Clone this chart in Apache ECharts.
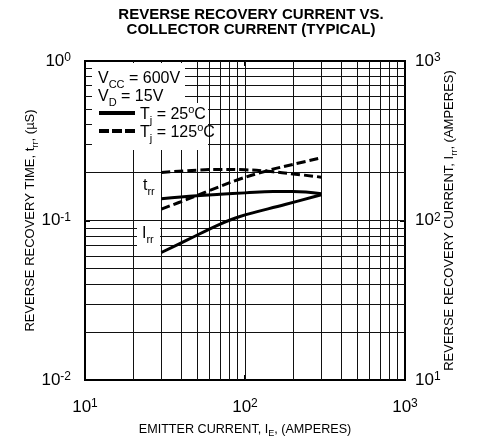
<!DOCTYPE html>
<html><head><meta charset="utf-8">
<script src="https://cdn.jsdelivr.net/npm/echarts@6/dist/echarts.min.js"></script>
<style>html,body{margin:0;padding:0;background:#fff}#c{width:479px;height:439px}</style>
</head><body><div id="c"></div>
<script>
// ---- data ----
const titleLines = ['REVERSE RECOVERY CURRENT VS.', 'COLLECTOR CURRENT (TYPICAL)'];
const xRange = [10, 1000];          // emitter current, A
const trrRange = [0.01, 1];         // reverse recovery time, µS
const irrRange = [10, 1000];        // reverse recovery current, A
const gridX = [20,30,40,50,60,70,80,90,100,200,300,400,500,600,700,800,900];
const gridY = [0.02,0.03,0.04,0.05,0.06,0.07,0.08,0.09,0.1,0.2,0.3,0.4,0.5,0.6,0.7,0.8,0.9];
const trr25  = [[30,0.137],[50,0.143],[70,0.146],[100,0.149],[150,0.152],[200,0.152],[300,0.147]];
const trr125 = [[30,0.200],[50,0.207],[70,0.209],[100,0.208],[150,0.202],[200,0.196],[300,0.187]];
const irr25  = [[30,63],[43,75],[70,95],[93,106],[178,126],[300,145]];
const irr125 = [[30,118],[43,135],[60,154],[93,182],[140,206],[200,225],[300,247]];
const conditions = ['V{sub|CC} = 600V', 'V{sub|D} = 15V'];
const legendTexts = ['T{sub|j} = 25{sup|o}C', 'T{sub|j} = 125{sup|o}C'];

const FONT = '"Liberation Sans", Arial, Helvetica, sans-serif';
const chart = echarts.init(document.getElementById('c'), null, {renderer: 'canvas'});

const expLabel = v => '{b|10}{s|' + Math.round(Math.log10(v)) + '}';
const tickRich = {
  b: {fontSize: 17, lineHeight: 20, fontFamily: FONT, color: '#000'},
  s: {fontSize: 12, lineHeight: 12, verticalAlign: 'top', padding: [1,0,0,0], fontFamily: FONT, color: '#000'}
};
const nameRich = (fs) => ({
  n: {fontSize: fs, lineHeight: fs + 2, verticalAlign: 'top', fontFamily: FONT, color: '#000'},
  sub: {fontSize: fs * 0.72, lineHeight: fs * 0.72, padding: [fs * 0.5,0,0,0], verticalAlign: 'top', fontFamily: FONT, color: '#000'}
});
const txtRich = {
  n: {fontSize: 16, lineHeight: 16, padding: [3,0,0,0], verticalAlign: 'top', fontFamily: FONT, fill: '#000'},
  sub: {fontSize: 11, lineHeight: 11, padding: [11,0,0,0], verticalAlign: 'top', fontFamily: FONT, fill: '#000'},
  sup: {fontSize: 11, lineHeight: 11, verticalAlign: 'top', fontFamily: FONT, fill: '#000'}
};
function wrapN(s){ // wrap plain parts in {n|...}
  return s.split(/(\{[a-z]+\|[^}]*\})/).filter(p=>p).map(p => p.startsWith('{') ? p : '{n|' + p + '}').join('');
}

const axisCommon = {
  type: 'log', logBase: 10,
  nameMoveOverlap: false,
  axisLine: {show: true, lineStyle: {color: '#000', width: 2}},
  axisTick: {show: true, inside: true, length: 5, lineStyle: {color: '#000', width: 2}},
  splitLine: {show: false},
  minorTick: {show: false}
};

const curveStyle = (dashed) => ({color: '#000', width: 3, type: dashed ? [9,4] : 'solid'});

const option = {
  animation: false,
  backgroundColor: '#fff',
  title: {
    text: titleLines.join('\n'),
    left: 246, top: 2, textAlign: 'center',
    textStyle: {fontSize: 15, fontWeight: 'bold', fontFamily: FONT, lineHeight: 15, color: '#000'}
  },
  grid: {left: 85, right: 74, top: 61, bottom: 59, outerBoundsMode: 'none', containLabel: false,
         show: true, borderColor: '#000', borderWidth: 2, backgroundColor: 'transparent'},
  xAxis: [
    Object.assign({}, axisCommon, {
      min: xRange[0], max: xRange[1], position: 'bottom',
      name: wrapN('EMITTER CURRENT, I{sub|E}, (AMPERES)'), nameLocation: 'middle', nameGap: 43,
      nameTextStyle: {rich: nameRich(12.6)},
      axisLabel: {formatter: expLabel, rich: tickRich, margin: 17}
    }),
    Object.assign({}, axisCommon, {
      min: xRange[0], max: xRange[1], position: 'top', axisLabel: {show: false}
    })
  ],
  yAxis: [
    Object.assign({}, axisCommon, {
      min: trrRange[0], max: trrRange[1], position: 'left',
      name: wrapN('REVERSE RECOVERY TIME, t{sub|rr}, (µS)'), nameLocation: 'middle', nameGap: 46,
      nameTextStyle: {rich: nameRich(13)},
      axisLabel: {formatter: expLabel, rich: tickRich, margin: 14}
    }),
    Object.assign({}, axisCommon, {
      min: irrRange[0], max: irrRange[1], position: 'right',
      name: wrapN('REVERSE RECOVERY CURRENT, I{sub|rr}, (AMPERES)'), nameLocation: 'middle', nameGap: 38,
      nameTextStyle: {rich: nameRich(13)},
      axisLabel: {formatter: expLabel, rich: tickRich, margin: 10}
    })
  ],
  graphic: [
    {type: 'rect', zlevel: 1, silent: true, shape: {x: 92, y: 63, width: 93, height: 40}, style: {fill: '#fff'}},
    {type: 'rect', zlevel: 1, silent: true, shape: {x: 92, y: 103, width: 116, height: 47}, style: {fill: '#fff'}},
    {type: 'text', zlevel: 1, z: 10, x: 98, y: 68, style: {text: wrapN(conditions[0]), rich: txtRich, verticalAlign: 'top'}},
    {type: 'text', zlevel: 1, z: 10, x: 98, y: 86, style: {text: wrapN(conditions[1]), rich: txtRich, verticalAlign: 'top'}},
    {type: 'line', zlevel: 1, z: 10, shape: {x1: 99, y1: 113, x2: 135, y2: 113}, style: {stroke: '#000', lineWidth: 4}},
    {type: 'line', zlevel: 1, z: 10, shape: {x1: 99, y1: 131, x2: 135, y2: 131}, style: {stroke: '#000', lineWidth: 4, lineDash: [10,3]}},
    {type: 'text', zlevel: 1, z: 10, x: 140, y: 104, style: {text: wrapN(legendTexts[0]), rich: txtRich, verticalAlign: 'top'}},
    {type: 'text', zlevel: 1, z: 10, x: 140, y: 122, style: {text: wrapN(legendTexts[1]), rich: txtRich, verticalAlign: 'top'}},
    {type: 'rect', zlevel: 1, silent: true, shape: {x: 140, y: 178, width: 19, height: 18}, style: {fill: '#fff'}},
    {type: 'text', zlevel: 1, z: 10, x: 143, y: 175, style: {text: wrapN('t{sub|rr}'), rich: txtRich, verticalAlign: 'top'}},
    {type: 'rect', zlevel: 1, silent: true, shape: {x: 137, y: 226, width: 23, height: 21}, style: {fill: '#fff'}},
    {type: 'text', zlevel: 1, z: 10, x: 142, y: 223, style: {text: wrapN('I{sub|rr}'), rich: txtRich, verticalAlign: 'top'}}
  ],
  series: [
    {
      type: 'line', name: 'grid', data: [], z: 1, silent: true,
      markLine: {
        silent: true, symbol: ['none','none'], animation: false,
        label: {show: false},
        lineStyle: {color: '#111', width: 1, type: 'solid'},
        emphasis: {disabled: true},
        data: gridX.map(v => ({xAxis: v})).concat(gridY.map(v => ({yAxis: v})))
      }
    },
    {type: 'line', name: 'trr Tj=25°C', data: trr25, xAxisIndex: 0, yAxisIndex: 0, smooth: 0.4, showSymbol: false, z: 10, lineStyle: curveStyle(false)},
    {type: 'line', name: 'trr Tj=125°C', data: trr125, xAxisIndex: 0, yAxisIndex: 0, smooth: 0.4, showSymbol: false, z: 10, lineStyle: curveStyle(true)},
    {type: 'line', name: 'Irr Tj=25°C', data: irr25, xAxisIndex: 0, yAxisIndex: 1, smooth: 0.4, showSymbol: false, z: 10, lineStyle: curveStyle(false)},
    {type: 'line', name: 'Irr Tj=125°C', data: irr125, xAxisIndex: 0, yAxisIndex: 1, smooth: 0.4, showSymbol: false, z: 10, lineStyle: curveStyle(true)}
  ]
};
chart.setOption(option);
</script></body></html>
